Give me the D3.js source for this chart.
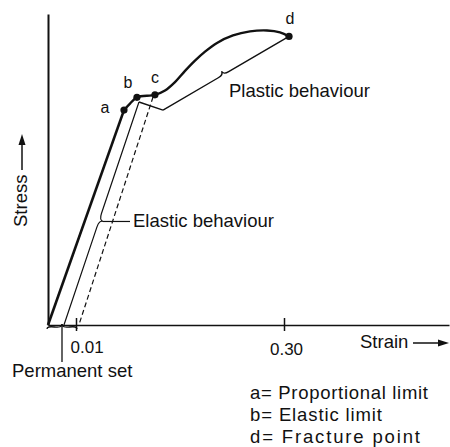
<!DOCTYPE html>
<html>
<head>
<meta charset="utf-8">
<script src="https://cdn.jsdelivr.net/npm/d3@7"></script>
<style>
  html, body { margin: 0; padding: 0; background: #fff; }
  svg { display: block; }
  text { font-family: "Liberation Sans", Arial, sans-serif; fill: #111; }
</style>
</head>
<body>
<svg id="chart" width="450" height="447"></svg>
<script>
// Schematic stress–strain diagram of a ductile material (not to scale)
const strainTicks = [0.01, 0.30];
const strainTickLabels = ["0.01", "0.30"];

// Proportional region: origin -> a
const loadStrain = [0, 0.0769];
const loadStress = [0, 69.1];

// Curve from a through b and c up to fracture at d
const curveStrain = [0.0769, 0.0853, 0.0950, 0.1201, 0.1341, 0.1480, 0.1620, 0.1759, 0.1899, 0.2066, 0.2289, 0.2526, 0.2763, 0.2944, 0.3070];
const curveStress = [69.1, 71.2, 73.2, 74.0, 75.4, 78.1, 81.7, 85.0, 87.9, 90.7, 93.1, 94.4, 94.7, 94.1, 92.8];

// Marked points
const pointNames = ["a", "b", "c", "d"];
const pointStrain = [0.0769, 0.0950, 0.1201, 0.3070];
const pointStress = [69.1, 73.2, 74.0, 92.8];

// Unloading from c leaves a permanent set
const unloadStrain = [0.1174, 0.014];
const unloadStress = [73.3, 0];

// Elastic behaviour bracket (from elastic limit down to the strain axis)
const elasticStrain = [0.0978, 0.0057];
const elasticStress = [71.7, 0];

// Plastic behaviour bracket (from elastic limit to fracture)
const plasticStrain = [0.0978, 0.1313, 0.3070];
const plasticStress = [71.7, 69.1, 92.8];

const legendLines = ["a= Proportional limit", "b= Elastic limit", "d= Fracture point"];

// ---------------------------------------------------------------
const svg = d3.select("#chart");
const FONT = 18.5;

// Piecewise strain scale: the small-strain region is stretched out
const x = d3.scaleLinear().domain([0, 0.01, 0.30, 0.53]).range([48, 76, 284, 449]);
const y = d3.scaleLinear().domain([0, 100]).range([325, 14]);

const zip = (xs, ys) => xs.map((v, i) => [x(v), y(ys[i])]);

// Axes
const xAxis = d3.axisBottom(x)
  .tickValues(strainTicks)
  .tickFormat((d, i) => strainTickLabels[i])
  .tickSizeOuter(0)
  .tickSizeInner(6);
const gx = svg.append("g").attr("transform", `translate(0,${y(0)})`).call(xAxis);
gx.select(".domain").attr("stroke", "#111").attr("stroke-width", 1.6);
gx.selectAll(".tick line").attr("stroke", "#111").attr("stroke-width", 1.5).attr("y1", -7).attr("y2", 6);
gx.selectAll(".tick text")
  .attr("fill", "#111")
  .style("font-family", "\"Liberation Sans\", Arial, sans-serif")
  .style("font-size", "17px")
  .attr("dy", 0)
  .attr("y", (d, i) => i === 0 ? 28 : 30)
  .attr("x", (d, i) => i === 0 ? -6 : 2)
  .attr("text-anchor", (d, i) => i === 0 ? "start" : "middle");

const yAxis = d3.axisLeft(y).tickValues([]).tickSizeOuter(0);
const gy = svg.append("g").attr("transform", `translate(${x(0)},0)`).call(yAxis);
gy.select(".domain").attr("stroke", "#111").attr("stroke-width", 2);

// Brackets: straight line with a small cusp pointing to its label
function bracket(p0, p1, t, w, c, side) {
  const dx = p1[0] - p0[0], dy = p1[1] - p0[1];
  const L = Math.hypot(dx, dy);
  const ux = dx / L, uy = dy / L;
  const nx = -uy * side, ny = ux * side;
  const T = [p0[0] + ux * t * L, p0[1] + uy * t * L];
  const tip = [T[0] + nx * w, T[1] + ny * w];
  const a = [T[0] - ux * c, T[1] - uy * c];
  const b = [T[0] + ux * c, T[1] + uy * c];
  return {
    d: `M${p0}L${a}Q${T} ${tip}M${p1}L${b}Q${T} ${tip}`,
    tip
  };
}

// Elastic behaviour bracket
const ePts = zip(elasticStrain, elasticStress);
const eBr = bracket(ePts[0], ePts[1], 0.53, 4, 7, -1);
svg.append("path").attr("d", eBr.d).attr("fill", "none").attr("stroke", "#111").attr("stroke-width", 1.2);
svg.append("line")
  .attr("x1", eBr.tip[0]).attr("y1", eBr.tip[1])
  .attr("x2", 130).attr("y2", eBr.tip[1])
  .attr("stroke", "#111").attr("stroke-width", 1.2);
svg.append("text").attr("x", 133).attr("y", 227).style("font-size", FONT + "px").text("Elastic behaviour");

// Plastic behaviour bracket
const pPts = zip(plasticStrain, plasticStress);
const pBr = bracket(pPts[1], pPts[2], 0.48, 4, 6, -1);
svg.append("path")
  .attr("d", `M${pPts[0]}L${pPts[1]}` + pBr.d)
  .attr("fill", "none").attr("stroke", "#111").attr("stroke-width", 1.4);
svg.append("text").attr("x", 229).attr("y", 97).style("font-size", FONT + "px").text("Plastic behaviour");

// Unloading line (dashed)
svg.append("path")
  .attr("d", d3.line()(zip(unloadStrain, unloadStress)))
  .attr("fill", "none").attr("stroke", "#111").attr("stroke-width", 1.2)
  .attr("stroke-dasharray", "5,3");

// Main stress–strain curve
svg.append("path")
  .attr("d", d3.line()(zip(loadStrain, loadStress)))
  .attr("fill", "none").attr("stroke", "#111").attr("stroke-width", 2.6);
svg.append("path")
  .attr("d", d3.line().curve(d3.curveCatmullRom.alpha(0.5))(zip(curveStrain, curveStress)))
  .attr("fill", "none").attr("stroke", "#111").attr("stroke-width", 2.4);

// Points and their letters
const labelOffsets = [[-19, 3], [-9, -9.5], [0, -12], [1, -12.5]];
const pts = zip(pointStrain, pointStress);
svg.selectAll("circle.pt").data(pts).join("circle")
  .attr("class", "pt").attr("cx", d => d[0]).attr("cy", d => d[1]).attr("r", 3.6).attr("fill", "#111");
svg.selectAll("text.pt").data(pts).join("text")
  .attr("class", "pt")
  .attr("x", (d, i) => d[0] + labelOffsets[i][0])
  .attr("y", (d, i) => d[1] + labelOffsets[i][1])
  .attr("text-anchor", "middle")
  .style("font-size", "16px")
  .text((d, i) => pointNames[i]);

// Permanent set brace under the strain axis
function curlyBrace(x1, y1, x2, y2, w, q) {
  let dx = x1 - x2, dy = y1 - y2;
  const len = Math.hypot(dx, dy);
  dx /= len; dy /= len;
  const qx1 = x1 + q * w * dy, qy1 = y1 - q * w * dx;
  const qx2 = (x1 - 0.25 * len * dx) + (1 - q) * w * dy, qy2 = (y1 - 0.25 * len * dy) - (1 - q) * w * dx;
  const tx1 = (x1 - 0.5 * len * dx) + w * dy, ty1 = (y1 - 0.5 * len * dy) - w * dx;
  const qx3 = x2 + q * w * dy, qy3 = y2 - q * w * dx;
  const qx4 = (x1 - 0.75 * len * dx) + (1 - q) * w * dy, qy4 = (y1 - 0.75 * len * dy) - (1 - q) * w * dx;
  return { d: `M${x1} ${y1}Q${qx1} ${qy1} ${qx2} ${qy2}T${tx1} ${ty1}M${x2} ${y2}Q${qx3} ${qy3} ${qx4} ${qy4}T${tx1} ${ty1}`, tip: [tx1, ty1] };
}
const brace = curlyBrace(x(0) - 1, y(0) + 4, x(0.01) + 1, y(0) + 4, -5, 0.6);
svg.append("path").attr("d", brace.d).attr("fill", "none").attr("stroke", "#111").attr("stroke-width", 1.3);
svg.append("line")
  .attr("x1", brace.tip[0]).attr("y1", brace.tip[1])
  .attr("x2", brace.tip[0]).attr("y2", 362)
  .attr("stroke", "#111").attr("stroke-width", 1.3);
svg.append("text").attr("x", 12).attr("y", 377).style("font-size", FONT + "px").text("Permanent set");

// Axis titles with arrows
svg.append("text")
  .attr("transform", "translate(27,227) rotate(-90)")
  .style("font-size", FONT + "px")
  .text("Stress");
svg.append("line").attr("x1", 22).attr("y1", 170).attr("x2", 22).attr("y2", 142)
  .attr("stroke", "#111").attr("stroke-width", 1.5);
svg.append("path").attr("d", "M22,134L18.5,145L25.5,145Z").attr("fill", "#111");

svg.append("text").attr("x", 360).attr("y", 348).style("font-size", FONT + "px").text("Strain");
svg.append("line").attr("x1", 413).attr("y1", 343).attr("x2", 441).attr("y2", 343)
  .attr("stroke", "#111").attr("stroke-width", 1.5);
svg.append("path").attr("d", "M449,343L438,339.5L438,346.5Z").attr("fill", "#111");

// Legend
const legendWidths = [178, 132, 170];
svg.selectAll("text.legend").data(legendLines).join("text")
  .attr("class", "legend")
  .attr("x", 250)
  .attr("y", (d, i) => 399 + i * 22)
  .attr("textLength", (d, i) => legendWidths[i])
  .attr("lengthAdjust", "spacing")
  .style("font-size", FONT + "px")
  .text(d => d);
</script>
</body>
</html>
